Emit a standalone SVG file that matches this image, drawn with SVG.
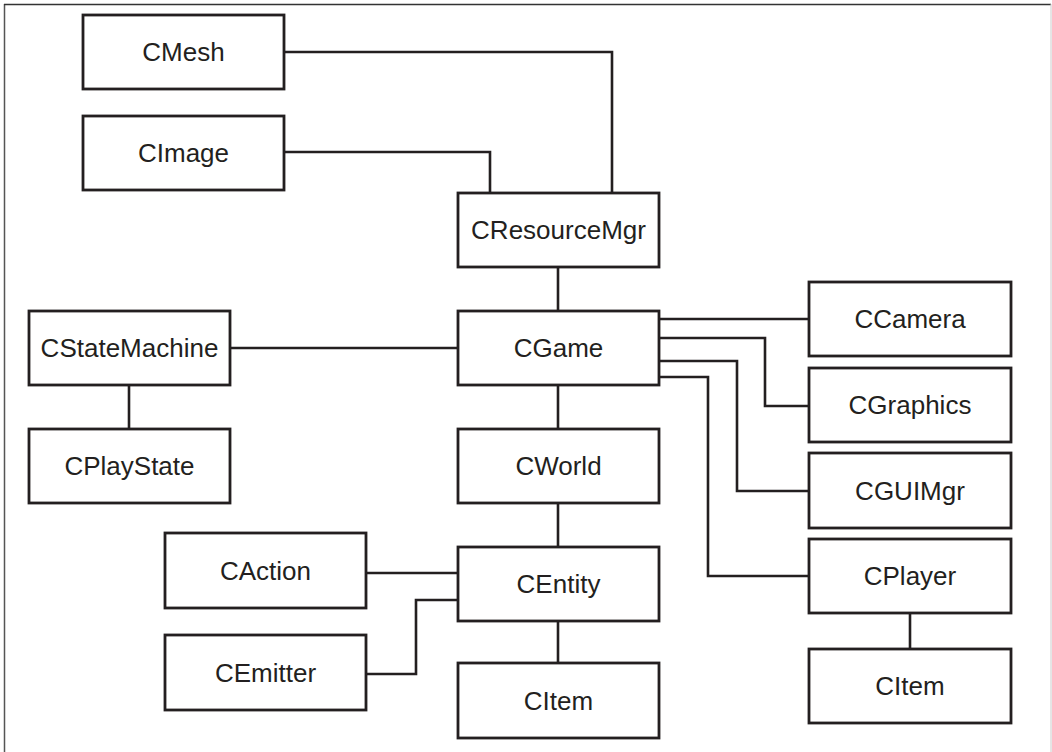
<svg xmlns="http://www.w3.org/2000/svg" width="1052" height="752" viewBox="0 0 1052 752">
<style>
.box{fill:#fff;stroke:#231f20;stroke-width:2.8}
.lbl{font-family:"Liberation Sans",Arial,sans-serif;font-size:26px;fill:#231f20;text-anchor:middle}
.conn{fill:none;stroke:#231f20;stroke-width:2.6}
</style>
<rect width="1052" height="752" fill="#fff"/>
<g id="frame" fill="none">
<line x1="4.5" y1="4" x2="4.5" y2="752" stroke="#555" stroke-width="1.5"/>
<line x1="4" y1="4.5" x2="1051" y2="4.5" stroke="#333" stroke-width="1.5"/>
<line x1="1051" y1="4" x2="1051" y2="752" stroke="#ccc" stroke-width="1"/>
</g>
<g id="connectors">
<path class="conn" d="M284,52 H612 V193"/>
<path class="conn" d="M284,152 H490 V193"/>
<path class="conn" d="M558,267 V311"/>
<path class="conn" d="M230,348 H458"/>
<path class="conn" d="M129,385 V429"/>
<path class="conn" d="M659,319 H809"/>
<path class="conn" d="M659,338 H765 V406 H809"/>
<path class="conn" d="M659,361 H737 V491 H809"/>
<path class="conn" d="M659,377 H708 V576 H809"/>
<path class="conn" d="M910,613 V649"/>
<path class="conn" d="M558,384 V429"/>
<path class="conn" d="M558,503 V547"/>
<path class="conn" d="M366,573 H458"/>
<path class="conn" d="M366,674 H416 V600 H458"/>
<path class="conn" d="M558,621 V663"/>
</g>
<g id="CMesh"><rect class="box" x="83" y="15" width="201" height="74"/><text class="lbl" x="183.5" y="61">CMesh</text></g>
<g id="CImage"><rect class="box" x="83" y="116" width="201" height="74"/><text class="lbl" x="183.5" y="162">CImage</text></g>
<g id="CResourceMgr"><rect class="box" x="458" y="193" width="201" height="74"/><text class="lbl" x="558.5" y="239">CResourceMgr</text></g>
<g id="CStateMachine"><rect class="box" x="29" y="311" width="201" height="74"/><text class="lbl" x="129.5" y="357">CStateMachine</text></g>
<g id="CGame"><rect class="box" x="458" y="311" width="201" height="74"/><text class="lbl" x="558.5" y="357">CGame</text></g>
<g id="CPlayState"><rect class="box" x="29" y="429" width="201" height="74"/><text class="lbl" x="129.5" y="475">CPlayState</text></g>
<g id="CWorld"><rect class="box" x="458" y="429" width="201" height="74"/><text class="lbl" x="558.5" y="475">CWorld</text></g>
<g id="CCamera"><rect class="box" x="809" y="282" width="202" height="74"/><text class="lbl" x="910" y="328">CCamera</text></g>
<g id="CGraphics"><rect class="box" x="809" y="368" width="202" height="74"/><text class="lbl" x="910" y="414">CGraphics</text></g>
<g id="CGUIMgr"><rect class="box" x="809" y="453" width="202" height="75"/><text class="lbl" x="910" y="500">CGUIMgr</text></g>
<g id="CPlayer"><rect class="box" x="809" y="539" width="202" height="74"/><text class="lbl" x="910" y="585">CPlayer</text></g>
<g id="CItemPlayer"><rect class="box" x="809" y="649" width="202" height="74"/><text class="lbl" x="910" y="695">CItem</text></g>
<g id="CAction"><rect class="box" x="165" y="533" width="201" height="75"/><text class="lbl" x="265.5" y="580">CAction</text></g>
<g id="CEntity"><rect class="box" x="458" y="547" width="201" height="74"/><text class="lbl" x="558.5" y="593">CEntity</text></g>
<g id="CEmitter"><rect class="box" x="165" y="635" width="201" height="75"/><text class="lbl" x="265.5" y="682">CEmitter</text></g>
<g id="CItemEntity"><rect class="box" x="458" y="663" width="201" height="75"/><text class="lbl" x="558.5" y="710">CItem</text></g>
</svg>
